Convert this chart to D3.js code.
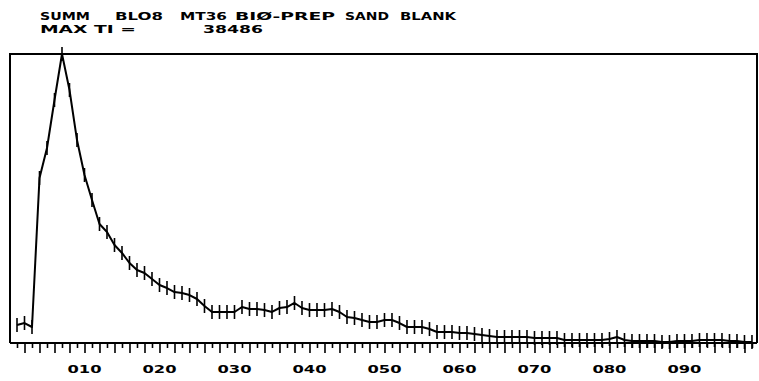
<!DOCTYPE html>
<html>
<head>
<meta charset="utf-8">
<script src="https://cdn.jsdelivr.net/npm/d3@7"></script>
<style>
  html, body { margin: 0; padding: 0; background: #fff; }
  svg { display: block; }
  text { font-family: "DejaVu Sans", sans-serif; font-weight: bold; fill: #000; }
</style>
</head>
<body>
<svg id="chart" width="759" height="381"></svg>
<script>
// ---- data ----
const titleLine1 = ["SUMM", "BLO8", "MT36", "BIØ-PREP", "SAND", "BLANK"];
const titleLine2 = ["MAX TI =", "38486"];
const maxTI = 38486;
const scans = d3.range(1, 100);
const intensity = [
  2400, 2660, 2130, 21970, 25970, 32360, 38486, 33690, 27030, 22370,
  19040, 15850, 14780, 13050, 11990, 10650, 9720, 9320, 8520, 7720,
  7320, 6790, 6660, 6390, 5860, 4930, 4130, 4130, 4130, 4130,
  4790, 4530, 4530, 4390, 4130, 4660, 4790, 5330, 4660, 4390,
  4390, 4390, 4530, 4130, 3460, 3330, 3060, 2800, 2800, 3060,
  3060, 2660, 2130, 2130, 2130, 1860, 1460, 1460, 1460, 1330,
  1330, 1200, 1070, 930, 800, 800, 800, 800, 800, 670,
  670, 670, 670, 400, 400, 400, 400, 400, 400, 530,
  800, 400, 270, 270, 270, 270, 130, 130, 270, 270,
  270, 400, 400, 400, 400, 270, 270, 130, 130
];
const tickValues = d3.range(1, 100);
const labelValues = [10, 20, 30, 40, 50, 60, 70, 80, 90];
const labelText = ["010", "020", "030", "040", "050", "060", "070", "080", "090"];

// ---- layout ----
const svg = d3.select("#chart");
const L = 10, R = 757, T = 54, B = 343;
const x = d3.scaleLinear().domain([0, 99.67]).range([9.5, 757]);
const y = d3.scaleLinear().domain([0, maxTI]).range([B, T]);

// title
const t1x = [40, 115, 180, 235, 345, 400];
const t1w = [50, 48, 47, 100, 44, 56];
titleLine1.forEach((s, i) => {
  svg.append("text").attr("x", t1x[i]).attr("y", 20).attr("font-size", 11)
    .attr("textLength", t1w[i]).attr("lengthAdjust", "spacingAndGlyphs").text(s);
});
const t2x = [40, 203], t2w = [96, 60];
titleLine2.forEach((s, i) => {
  svg.append("text").attr("x", t2x[i]).attr("y", 33).attr("font-size", 11)
    .attr("textLength", t2w[i]).attr("lengthAdjust", "spacingAndGlyphs").text(s);
});

// frame
svg.append("path")
  .attr("d", `M${L},${B} L${L},${T} L${R},${T} L${R},${B}`)
  .attr("fill", "none").attr("stroke", "#000").attr("stroke-width", 2);

// x axis
const ax = d3.axisBottom(x).tickValues(tickValues).tickFormat("").tickSizeOuter(0)
  .tickSize(6);
const axG = svg.append("g").attr("transform", `translate(0,${B})`).call(ax);
axG.select(".domain").attr("stroke", "#000").attr("stroke-width", 2.2)
  .attr("d", `M${L},0H${R}`);
axG.selectAll(".tick line").attr("stroke", "#000").attr("stroke-width", 1.6)
  .attr("y2", d => d % 2 === 0 ? 10 : 5);

labelValues.forEach((v, i) => {
  svg.append("text").attr("x", x(v)).attr("y", 373).attr("font-size", 11)
    .attr("text-anchor", "middle")
    .attr("textLength", 34).attr("lengthAdjust", "spacingAndGlyphs")
    .text(labelText[i]);
});

// data line
const pts = scans.map((s, i) => [s, intensity[i]]);
svg.append("path").datum(pts)
  .attr("fill", "none").attr("stroke", "#000").attr("stroke-width", 2)
  .attr("stroke-linejoin", "round")
  .attr("d", d3.line().x(d => x(d[0])).y(d => y(d[1])));

// point markers (vertical bars)
svg.append("g").selectAll("line").data(pts).join("line")
  .attr("x1", d => x(d[0])).attr("x2", d => x(d[0]))
  .attr("y1", d => y(d[1]) - 7).attr("y2", d => y(d[1]) + 7)
  .attr("stroke", "#000").attr("stroke-width", 1.6);
</script>
</body>
</html>
